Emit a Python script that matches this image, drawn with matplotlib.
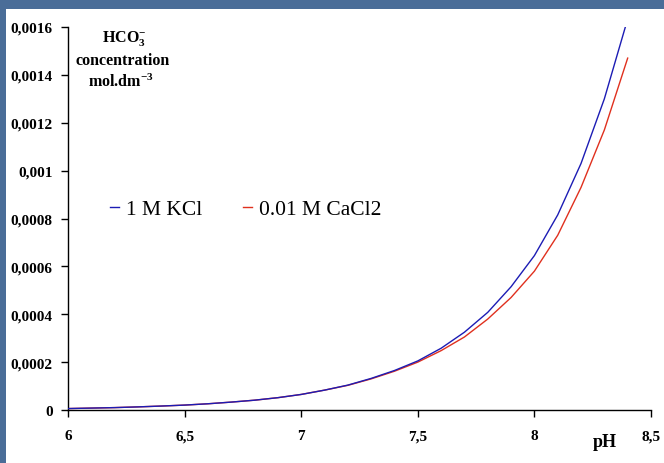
import matplotlib
matplotlib.use("Agg")
import matplotlib.pyplot as plt
from matplotlib.patches import Rectangle

plt.rcParams["mathtext.fontset"] = "custom"
plt.rcParams["mathtext.rm"] = "Liberation Serif:bold"
plt.rcParams["mathtext.bf"] = "Liberation Serif:bold"
plt.rcParams["mathtext.it"] = "Liberation Serif:bold"

# ---- data ----
ph_kcl = [6.0, 6.1, 6.2, 6.3, 6.4, 6.5, 6.6, 6.7, 6.8, 6.9, 7.0, 7.1, 7.2, 7.3,
          7.4, 7.5, 7.6, 7.7, 7.8, 7.9, 8.0, 8.1, 8.2, 8.3, 8.39]
hco3_kcl = [0.0000060, 0.0000080, 0.0000100, 0.0000130, 0.0000165, 0.0000205,
            0.0000260, 0.0000330, 0.0000410, 0.0000515, 0.0000650, 0.0000830,
            0.0001040, 0.0001320, 0.0001650, 0.0002050, 0.0002580, 0.0003250,
            0.0004080, 0.0005150, 0.0006450, 0.0008150, 0.0010300, 0.0013000,
            0.0016000]

ph_cacl2 = [6.0, 6.1, 6.2, 6.3, 6.4, 6.5, 6.6, 6.7, 6.8, 6.9, 7.0, 7.1, 7.2, 7.3,
            7.4, 7.5, 7.6, 7.7, 7.8, 7.9, 8.0, 8.1, 8.2, 8.3, 8.4]
hco3_cacl2 = [0.0000060, 0.0000080, 0.0000100, 0.0000130, 0.0000165, 0.0000205,
              0.0000260, 0.0000330, 0.0000410, 0.0000515, 0.0000650, 0.0000830,
              0.0001030, 0.0001300, 0.0001620, 0.0002000, 0.0002480, 0.0003050,
              0.0003800, 0.0004700, 0.0005800, 0.0007300, 0.0009300, 0.0011700,
              0.0014700]

series_labels = ["1 M KCl", "0.01 M CaCl2"]

x_ticks = [6.0, 6.5, 7.0, 7.5, 8.0, 8.5]
x_ticklabels = ["6", "6,5", "7", "7,5", "8", "8,5"]
y_ticks = [0, 0.0002, 0.0004, 0.0006, 0.0008, 0.001, 0.0012, 0.0014, 0.0016]
y_ticklabels = ["0", "0,0002", "0,0004", "0,0006", "0,0008", "0,001",
                "0,0012", "0,0014", "0,0016"]

# ---- figure ----
W, H = 664, 464
fig = plt.figure(figsize=(W / 100, H / 100), dpi=100, facecolor="white")

bg = "#4a6d98"
fig.patches.append(Rectangle((0, 1 - 10 / H), 1, 10 / H, transform=fig.transFigure,
                             facecolor=bg, edgecolor="none", zorder=0))
fig.patches.append(Rectangle((0, 0), 6 / W, 1, transform=fig.transFigure,
                             facecolor=bg, edgecolor="none", zorder=0))

left, right = 68 / W, 651 / W
bottom, top = (H - 411) / H, (H - 28) / H
ax = fig.add_axes([left, bottom, right - left, top - bottom])
ax.set_facecolor("white")

ax.plot(ph_kcl, hco3_kcl, color="#1c1cb4", lw=1.0, label=series_labels[0], zorder=3)
ax.plot(ph_cacl2, hco3_cacl2, color="#e0301e", lw=1.0, label=series_labels[1], zorder=2)

ax.set_xlim(6, 8.5)
ax.set_ylim(0, 0.0016)

for s in ["top", "right"]:
    ax.spines[s].set_visible(False)
for s in ["left", "bottom"]:
    ax.spines[s].set_linewidth(1.0)
    ax.spines[s].set_color("black")

tick_font = dict(family="Liberation Serif", weight="bold", size=11)
ax.set_xticks(x_ticks)
ax.set_xticklabels(x_ticklabels, fontdict=tick_font)
ax.set_yticks(y_ticks)
ax.set_yticklabels(y_ticklabels, fontdict=tick_font)
ax.tick_params(axis="x", direction="out", length=5, width=1, pad=9)
ax.tick_params(axis="y", direction="out", length=5, width=1, pad=6)

# pH label
fig.text(605 / W, 1 - 443 / H, "pH", ha="center", va="center",
         family="Liberation Serif", weight="bold", size=13)

# y-axis title block
title_font = dict(family="Liberation Serif", weight="bold", size=11.5)
fig.text(124 / W, 1 - 38 / H, r"HCO$_\mathbf{3}^{\mathbf{-}}$", ha="center", va="center",
         **title_font)
fig.text(123 / W, 1 - 61 / H, "concentration", ha="center", va="center", **title_font)
fig.text(121 / W, 1 - 82 / H, r"mol.dm$^{\mathbf{-3}}$", ha="center", va="center",
         **title_font)

leg = ax.legend(loc="center left", bbox_to_anchor=(110 / W, 1 - 210 / H),
                bbox_transform=fig.transFigure, frameon=False, ncol=2,
                handlelength=0.4, handletextpad=0.35, columnspacing=1.9,
                borderpad=0, borderaxespad=0,
                prop=dict(family="Liberation Serif", size=15.5))

fig.savefig("out.png", dpi=100, facecolor=fig.get_facecolor())
